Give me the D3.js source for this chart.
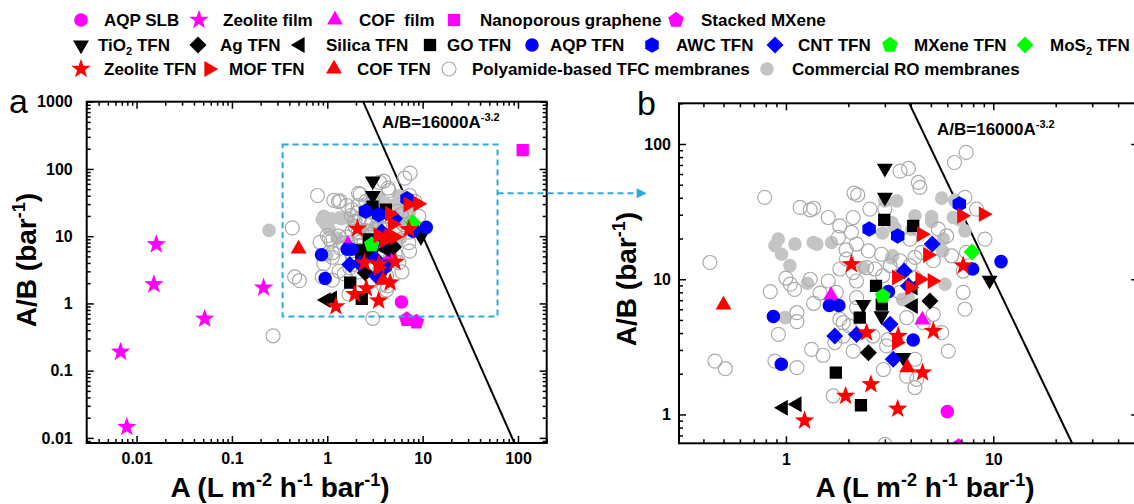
<!DOCTYPE html>
<html>
<head>
<meta charset="utf-8">
<script src="https://cdn.jsdelivr.net/npm/d3@7"></script>
<style>
  body { margin: 0; background: #fff; }
  svg { font-family: "Liberation Sans", Arial, sans-serif; font-weight: bold; }
</style>
</head>
<body>
<svg id="chart" width="1134" height="504"></svg>
<script>
// values: [A, A/B]
const aqpSlb = [[6.0, 1.05]];
const zeoliteFilm = [[0.0161, 7.55], [0.0152, 1.92], [0.0518, 0.59], [0.215, 1.71], [0.0068, 0.19], [0.0079, 0.0145]];
const cofFilm = [[1.65, 7.6], [4.55, 5.0]];
const nanoGraphene = [[112, 191]];
const stackedMxene = [[6.8, 0.58], [8.6, 0.53]];
const tio2Tfn = [[3.0, 66], [3.0, 40.3], [2.36, 6.5], [2.89, 5.35], [3.68, 2.63], [9.6, 9.8]];
const agTfn = [[4.95, 6.9], [2.5, 2.86]];
const silicaTfn = [[0.97, 1.12], [1.13, 1.19], [4.11, 6.35], [4.1, 8.7]];
const goTfn = [[2.98, 27.5], [4.11, 24.8], [2.72, 8.93], [2.9, 6.5], [2.27, 5.2], [1.74, 2.04], [2.3, 1.17]];
const aqpTfn = [[0.87, 5.3], [0.95, 2.35], [1.62, 6.4], [1.8, 6.4], [3.12, 8.1], [4.11, 3.55], [7.95, 11.9], [10.9, 13.5]];
const awcTfn = [[2.52, 23.5], [3.46, 20.9], [6.86, 36]];
const cntTfn = [[5.08, 18.2], [3.72, 11.5], [3.9, 8.9], [1.72, 3.8], [2.19, 3.91], [3.18, 4.64], [3.29, 2.56]];
const mxeneTfn = [[2.93, 7.5]];
const mos2Tfn = [[7.9, 15.9]];
const zeoliteTfn = [[2.07, 12.9], [7.16, 12.6], [2.45, 4.03], [3.48, 3.8], [5.14, 4.14], [4.56, 2.04], [2.57, 1.67], [1.94, 1.37], [3.46, 1.1], [1.23, 0.9]];
const mofTfn = [[4.51, 21.5], [4.83, 15.1], [3.42, 10.3], [4.43, 10.0], [5.08, 9.7], [3.97, 8.7], [7.05, 29.5], [8.96, 30.3], [3.42, 3.4]];
const cofTfn = [[0.5, 6.45], [3.85, 2.22]];
const tfcMembranes = [
  [7.4, 86.7], [6.5, 73], [3.55, 63], [3.9, 66], [4.35, 52], [4.43, 47.8], [0.79, 40.3], [2.13, 43.4], [2.22, 42],
  [1.17, 34], [1.31, 32.6], [1.36, 33.5], [1.6, 28.6], [1.82, 24.8], [2.11, 28.6], [2.54, 33], [3.0, 33], [1.79, 20.4],
  [2.07, 22.2], [2.19, 18.2], [2.5, 16.2], [2.89, 15.3], [1.96, 14.1], [1.82, 11.9], [1.6, 9.7], [2.11, 11.2],
  [2.19, 9.7], [2.45, 12.2], [2.69, 11.9], [3.96, 19.8], [4.19, 14.5], [5.14, 13.7], [5.43, 23.5], [5.96, 20.9],
  [6.3, 14.9], [7.43, 15.8], [7.16, 11.5], [8.3, 33], [7.3, 40.3], [9.12, 19.8], [1.05, 9.2], [1.1, 8.4], [0.84, 8.1],
  [0.43, 13.3], [1.46, 7.9], [3.96, 12.6], [4.19, 10.3], [3.55, 13.7], [2.93, 10.6], [3.18, 12.6], [4.51, 15.8],
  [1.31, 10], [1.75, 8.0], [1.36, 6.64], [1.13, 5.66], [1.13, 4.86], [0.92, 3.91], [1.82, 5.06], [1.89, 4.77],
  [2.19, 7.31], [2.19, 6.17], [1.72, 3.4], [2.11, 2.94], [1.33, 3.03], [1.51, 2.74], [0.455, 2.48], [0.51, 2.18],
  [0.885, 2.48], [1.13, 2.22], [1.69, 1.37], [2.95, 2.15], [3.06, 3.21], [4.19, 2.56], [4.27, 1.82], [4.19, 1.58],
  [6.07, 2.94], [5.14, 5.5], [7.3, 6.0], [7.16, 8.0], [3.82, 5.2], [4.6, 4.77], [5.64, 4.03], [3.82, 1.92],
  [3.55, 8.0], [3.12, 3.59], [1.89, 3.8], [1.95, 16.5], [2.02, 4.52], [2.63, 3.8], [1.0, 10.2], [0.27, 0.33], [3.0, 0.6]
];
const roMembranes = [
  [0.918, 19.8], [0.885, 17.7], [0.953, 15.3], [1.045, 12.6], [1.105, 18.2], [1.354, 18.7], [1.41, 18.2], [1.66, 18.7],
  [1.27, 9.34], [3.27, 14.9], [3.0, 38], [3.42, 38], [4.19, 29.5], [5.04, 29.1], [5.64, 39.8], [6.52, 38.3], [6.41, 28.6],
  [5.74, 19.8], [7.3, 22.8], [5.85, 9.18], [3.24, 26.3], [2.36, 12.2], [0.99, 5.2], [3.89, 7.3], [5.7, 16.1],
  [6.85, 27.6], [4.04, 23.3], [3.36, 23.9], [2.92, 22], [3.23, 14.4], [3.65, 7.1], [5.05, 26.8], [0.245, 12.2]
];

// fitted line A/B = 16000 A^-3.2
const lineCoef = 16000;
const lineExp = -3.2;

// axis ranges
const panelAX = [0.003, 200], panelAY = [0.0084, 1000];
const panelBX = [0.305, 50], panelBY = [0.612, 200];
// zoom box drawn in panel a
const zoomBoxX = [0.34, 61], zoomBoxY = [0.64, 231], arrowAt = 43.5;

const MAG = '#ff00ff', BLK = '#000000', BLU = '#0000ff', GRN = '#00ff00', RED = '#ff0000';

const series = [
  {name: ['AQP SLB'], data: aqpSlb, shape: 'circle', color: MAG},
  {name: ['Zeolite film'], data: zeoliteFilm, shape: 'star', color: MAG},
  {name: ['COF  film'], data: cofFilm, shape: 'triUp', color: MAG},
  {name: ['Nanoporous graphene'], data: nanoGraphene, shape: 'square', color: MAG},
  {name: ['Stacked MXene'], data: stackedMxene, shape: 'pentagon', color: MAG},
  {name: ['TiO', {sub: '2'}, ' TFN'], data: tio2Tfn, shape: 'triDown', color: BLK},
  {name: ['Ag TFN'], data: agTfn, shape: 'diamond', color: BLK},
  {name: ['Silica TFN'], data: silicaTfn, shape: 'triLeft', color: BLK},
  {name: ['GO TFN'], data: goTfn, shape: 'square', color: BLK},
  {name: ['AQP TFN'], data: aqpTfn, shape: 'circle', color: BLU},
  {name: ['AWC TFN'], data: awcTfn, shape: 'hexagon', color: BLU},
  {name: ['CNT TFN'], data: cntTfn, shape: 'diamond', color: BLU},
  {name: ['MXene TFN'], data: mxeneTfn, shape: 'pentagon', color: GRN},
  {name: ['MoS', {sub: '2'}, ' TFN'], data: mos2Tfn, shape: 'diamond', color: GRN},
  {name: ['Zeolite TFN'], data: zeoliteTfn, shape: 'star', color: RED},
  {name: ['MOF TFN'], data: mofTfn, shape: 'triRight', color: RED},
  {name: ['COF TFN'], data: cofTfn, shape: 'triUp', color: RED},
  {name: ['Polyamide-based TFC membranes'], data: tfcMembranes, shape: 'open', color: '#aaaaaa'},
  {name: ['Commercial RO membranes'], data: roMembranes, shape: 'circle', color: '#c4c4c4'}
];

// legend layout: [row, marker x, text x]
const legendPos = [
  [0, 81, 104], [0, 199, 223], [0, 335, 359], [0, 454, 480], [0, 676, 701],
  [1, 81, 98], [1, 198, 220], [1, 300, 326], [1, 430, 447], [1, 532, 550], [1, 652, 676], [1, 775, 798], [1, 890, 914], [1, 1025, 1050],
  [2, 81, 104], [2, 209, 229], [2, 334, 357], [2, 449, 472], [2, 767, 792]
];
const legendRowY = [20, 45, 69];

function poly(n, R, a0, ri) {
  const m = ri ? n * 2 : n, pts = [];
  for (let i = 0; i < m; i++) {
    const a = (a0 + i * 360 / m) * Math.PI / 180;
    const r = ri && i % 2 ? ri : R;
    pts.push((r * Math.cos(a)).toFixed(2) + ',' + (r * Math.sin(a)).toFixed(2));
  }
  return 'M' + pts.join('L') + 'Z';
}
const SHAPES = {
  circle: d3.symbol(d3.symbolCircle, Math.PI * 6.8 * 6.8)(),
  open: d3.symbol(d3.symbolCircle, Math.PI * 7 * 7)(),
  square: poly(4, 8.7, 45),
  diamond: poly(4, 8.5, -90),
  triUp: poly(3, 9.2, -90),
  triDown: poly(3, 9.2, 90),
  triLeft: poly(3, 9.2, 180),
  triRight: poly(3, 9.2, 0),
  pentagon: poly(5, 8.2, -90),
  hexagon: poly(6, 7.8, -90),
  star: poly(5, 10.2, -90, 4.1)
};

function styleMark(sel, s) {
  if (s.shape === 'open') sel.attr('fill', 'none').attr('stroke', s.color).attr('stroke-width', 1.2);
  else sel.attr('fill', s.color);
}

// text with sub/superscripts, shifts in px
function richText(sel, parts, small, shift) {
  let cur = 0;
  parts.forEach(p => {
    const plain = typeof p === 'string';
    const target = plain ? 0 : (p.sub ? shift * 0.55 : -shift);
    const ts = sel.append('tspan').attr('dy', target - cur).text(plain ? p : (p.sub || p.sup));
    if (!plain) ts.attr('font-size', small);
    cur = target;
  });
}

const svg = d3.select('#chart');
svg.append('rect').attr('width', 1134).attr('height', 504).attr('fill', '#fff');

const isDecade = v => Math.abs(Math.log10(v) - Math.round(Math.log10(v))) < 1e-6;

function drawPanel(cfg) {
  const x = d3.scaleLog().domain(cfg.xd).range(cfg.xr);
  const y = d3.scaleLog().domain(cfg.yd).range(cfg.yr);
  const [x0, x1] = cfg.xr, [yb, yt] = cfg.yr;
  const g = svg.append('g');

  g.append('clipPath').attr('id', cfg.id).append('rect')
    .attr('x', x0).attr('y', yt).attr('width', x1 - x0).attr('height', yb - yt);
  const plot = g.append('g').attr('clip-path', `url(#${cfg.id})`);

  // fitted line
  const aTop = Math.pow(cfg.yd[1] / lineCoef, 1 / lineExp);
  const aBot = Math.pow(cfg.yd[0] / lineCoef, 1 / lineExp);
  plot.append('line')
    .attr('x1', x(aTop)).attr('y1', y(cfg.yd[1])).attr('x2', x(aBot)).attr('y2', y(cfg.yd[0]))
    .attr('stroke', '#000').attr('stroke-width', 2);

  const order = [series[18], series[17]].concat(series.slice(0, 17));
  order.forEach(s => {
    plot.append('g').selectAll('path').data(s.data).join('path')
      .attr('transform', d => `translate(${x(d[0])},${y(d[1])})`)
      .attr('d', SHAPES[s.shape])
      .call(styleMark, s);
  });

  const xt = x.ticks(), yt2 = y.ticks();
  const xMaj = xt.filter(isDecade), xMin = xt.filter(v => !isDecade(v));
  const yMaj = yt2.filter(isDecade), yMin = yt2.filter(v => !isDecade(v));
  const fmt = d => String(d);
  const axes = [
    [d3.axisBottom(x).tickValues(xMaj).tickSize(-7).tickPadding(10).tickFormat(fmt), `translate(0,${yb})`],
    [d3.axisBottom(x).tickValues(xMin).tickSize(-4).tickFormat(''), `translate(0,${yb})`],
    [d3.axisTop(x).tickValues(xMaj).tickSize(-7).tickFormat(''), `translate(0,${yt})`],
    [d3.axisTop(x).tickValues(xMin).tickSize(-4).tickFormat(''), `translate(0,${yt})`],
    [d3.axisLeft(y).tickValues(yMaj).tickSize(-7).tickPadding(cfg.yPad).tickFormat(fmt), `translate(${x0},0)`],
    [d3.axisLeft(y).tickValues(yMin).tickSize(-4).tickFormat(''), `translate(${x0},0)`],
    [d3.axisRight(y).tickValues(yMaj).tickSize(-7).tickFormat(''), `translate(${x1},0)`],
    [d3.axisRight(y).tickValues(yMin).tickSize(-4).tickFormat(''), `translate(${x1},0)`]
  ];
  axes.forEach(([ax, tr]) => {
    const a = g.append('g').attr('transform', tr).call(ax.tickSizeOuter(0));
    a.select('.domain').remove();
    a.selectAll('line').attr('stroke', '#000').attr('stroke-width', 1.5);
    a.selectAll('text').filter(function () { return this.textContent === ''; }).remove();
    a.selectAll('text').attr('font-size', 16).attr('font-weight', 'bold')
      .attr('font-family', '"Liberation Sans", Arial, sans-serif').attr('fill', '#000');
  });

  g.append('rect').attr('x', x0).attr('y', yt).attr('width', x1 - x0).attr('height', yb - yt)
    .attr('fill', 'none').attr('stroke', '#000').attr('stroke-width', 2);

  // equation label
  const eq = g.append('text').attr('x', cfg.eq[0]).attr('y', cfg.eq[1]).attr('font-size', 17);
  richText(eq, ['A/B=16000A', {sup: '-3.2'}], 11, 7);

  // axis titles
  const xt3 = g.append('text').attr('x', cfg.xTitle[0]).attr('y', cfg.xTitle[1])
    .attr('text-anchor', 'middle').attr('font-size', 28);
  richText(xt3, ['A (L m', {sup: '-2'}, ' h', {sup: '-1'}, ' bar', {sup: '-1'}, ')'], 18, 11);
  const yt3 = g.append('text').attr('transform', `translate(${cfg.yTitle[0]},${cfg.yTitle[1]}) rotate(-90)`)
    .attr('text-anchor', 'middle').attr('font-size', 28);
  richText(yt3, ['A/B (bar', {sup: '-1'}, ')'], 18, 11);

  g.append('text').attr('x', cfg.tag[0]).attr('y', cfg.tag[1]).attr('font-size', 34)
    .attr('font-weight', 'normal').text(cfg.label);

  return {x, y, g};
}

const pa = drawPanel({
  id: 'clipA', label: 'a', xd: panelAX, yd: panelAY, xr: [86.7, 546.7], yr: [443, 101.7], yPad: 14,
  eq: [382, 128], xTitle: [280, 497], yTitle: [36, 260], tag: [9, 113]
});
const pb = drawPanel({
  id: 'clipB', label: 'b', xd: panelBX, yd: panelBY, xr: [679, 1138.2], yr: [443.3, 103.3], yPad: 8,
  eq: [937, 135], xTitle: [925, 497], yTitle: [636, 279], tag: [637, 115]
});

// dashed zoom box and arrow
const boxCol = '#29abe2';
pa.g.append('rect')
  .attr('x', pa.x(zoomBoxX[0])).attr('y', pa.y(zoomBoxY[1]))
  .attr('width', pa.x(zoomBoxX[1]) - pa.x(zoomBoxX[0])).attr('height', pa.y(zoomBoxY[0]) - pa.y(zoomBoxY[1]))
  .attr('fill', 'none').attr('stroke', boxCol).attr('stroke-width', 2).attr('stroke-dasharray', '6,4');
const ay = pa.y(arrowAt), ax0 = pa.x(zoomBoxX[1]), ax1 = 646.7;
svg.append('line').attr('x1', ax0).attr('y1', ay).attr('x2', ax1 - 8).attr('y2', ay)
  .attr('stroke', boxCol).attr('stroke-width', 2).attr('stroke-dasharray', '6,4');
svg.append('path').attr('d', `M${ax1},${ay}L${ax1 - 10},${ay - 5}L${ax1 - 10},${ay + 5}Z`).attr('fill', boxCol);

// legend
const leg = svg.append('g');
series.forEach((s, i) => {
  const [row, mx, tx] = legendPos[i];
  const cy = legendRowY[row];
  leg.append('path').attr('transform', `translate(${mx},${cy})`).attr('d', SHAPES[s.shape]).call(styleMark, s);
  const t = leg.append('text').attr('x', tx).attr('y', cy + 6).attr('font-size', 17)
    .style('white-space', 'pre');
  richText(t, s.name, 11, 7);
});
</script>
</body>
</html>
